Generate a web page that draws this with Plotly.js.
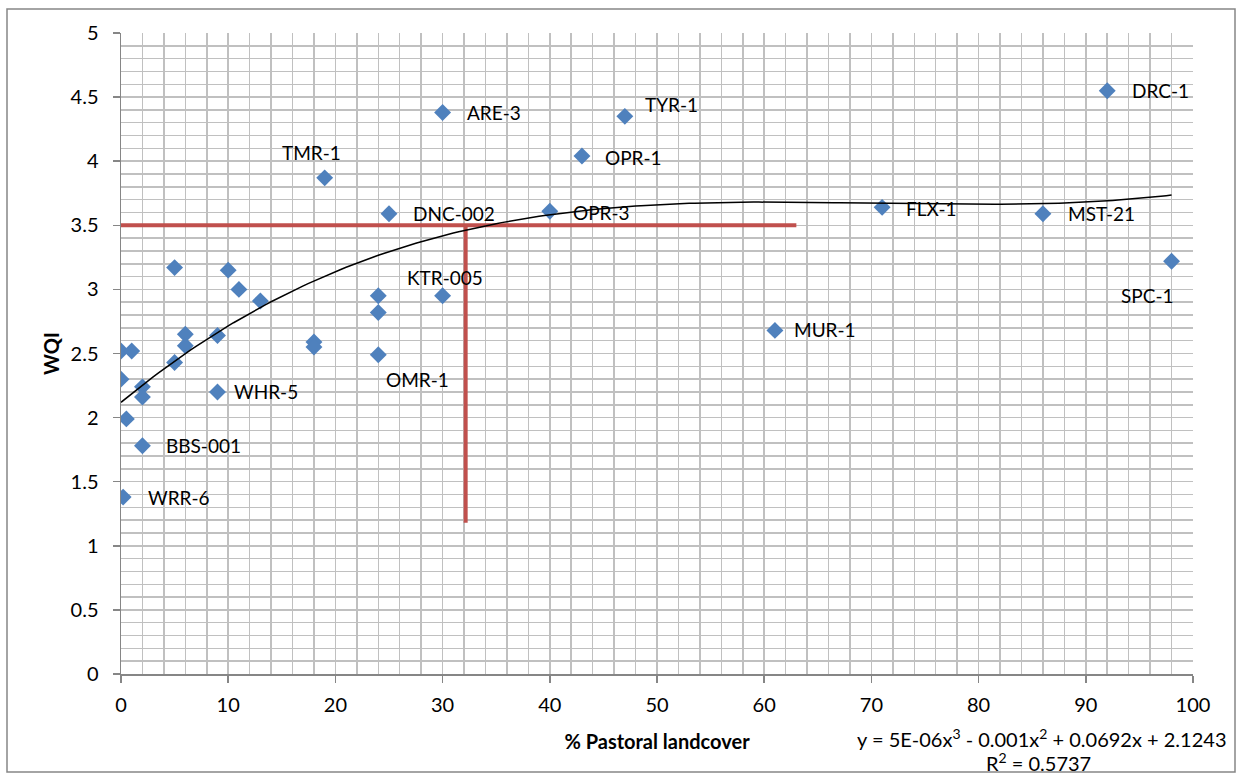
<!DOCTYPE html>
<html>
<head>
<meta charset="utf-8">
<script src="https://cdn.plot.ly/plotly-3.0.1.min.js"></script>
<style>html,body{margin:0;padding:0;background:#fff;}#chart{width:1237px;height:775px;}</style>
</head>
<body>
<div id="chart"></div>
<script>
// % pastoral landcover and WQI for each site
const pastoral = [0, 1, 0, 2, 2, 0.5, 2, 0.2, 5, 5, 6, 6, 9, 9, 10, 11, 13, 18, 18, 19, 25, 24, 24, 24, 30, 30, 40, 43, 47, 61, 71, 86, 92, 98];
const wqi      = [2.52, 2.52, 2.30, 2.24, 2.16, 1.99, 1.78, 1.38, 3.17, 2.43, 2.65, 2.56, 2.64, 2.20, 3.15, 3.00, 2.91, 2.59, 2.55, 3.87, 3.59, 2.95, 2.82, 2.49, 2.95, 4.38, 3.61, 4.04, 4.35, 2.68, 3.64, 3.59, 4.55, 3.22];
const siteNames= ["", "", "", "", "", "", "BBS-001", "WRR-6", "", "", "", "", "", "WHR-5", "", "", "", "", "", "TMR-1", "DNC-002", "", "", "OMR-1", "KTR-005", "ARE-3", "OPR-3", "OPR-1", "TYR-1", "MUR-1", "FLX-1", "MST-21", "DRC-1", "SPC-1"];

// threshold guide lines
const threshX = [0, 63];
const threshY = [3.5, 3.5];
const dropX = [32.15, 32.15];
const dropY = [3.5, 1.18];

const xTicks = [0,10,20,30,40,50,60,70,80,90,100];
const yTicks = [0,0.5,1,1.5,2,2.5,3,3.5,4,4.5,5];

// label placement (pixel offsets relative to the marker)
const labelPos = {
  "WRR-6":[23,0,"left"], "BBS-001":[22,0,"left"], "WHR-5":[15,0,"left"],
  "TMR-1":[-13,25,"center"], "DNC-002":[22,0,"left"], "KTR-005":[2,18,"center"],
  "OMR-1":[39,-25,"center"], "ARE-3":[22,0,"left"], "TYR-1":[18,12,"left"],
  "OPR-1":[21,-1,"left"], "OPR-3":[21,-1,"left"], "MUR-1":[17,1,"left"],
  "FLX-1":[22,-1,"left"], "MST-21":[23,0,"left"], "DRC-1":[23,0,"left"],
  "SPC-1":[-24,-34,"center"]
};

// cubic least-squares trendline computed from the data
function polyfit(xs, ys, deg) {
  const n = deg + 1;
  const A = Array.from({length:n}, () => new Array(n+1).fill(0));
  for (let k = 0; k < xs.length; k++) {
    for (let i = 0; i < n; i++) {
      for (let j = 0; j < n; j++) A[i][j] += Math.pow(xs[k], i + j);
      A[i][n] += ys[k] * Math.pow(xs[k], i);
    }
  }
  for (let i = 0; i < n; i++) {
    let p = i;
    for (let r = i+1; r < n; r++) if (Math.abs(A[r][i]) > Math.abs(A[p][i])) p = r;
    [A[i], A[p]] = [A[p], A[i]];
    for (let r = 0; r < n; r++) {
      if (r === i) continue;
      const f = A[r][i] / A[i][i];
      for (let c = i; c <= n; c++) A[r][c] -= f * A[i][c];
    }
  }
  return A.map((row, i) => row[n] / row[i]);
}
const coef = polyfit(pastoral, wqi, 3);
const xMax = Math.max(...pastoral);
const trendX = [], trendY = [];
for (let i = 0; i <= 196; i++) {
  const x = xMax * i / 196;
  trendX.push(x);
  trendY.push(coef[0] + coef[1]*x + coef[2]*x*x + coef[3]*x*x*x);
}

const font = "Lato, 'Open Sans', sans-serif";
const gridCol = "#c0c0c0";
const axisCol = "#868686";

const traces = [
  {x: threshX, y: threshY, mode: "lines", line: {color: "#C0504D", width: 4}, hoverinfo: "skip"},
  {x: dropX, y: dropY, mode: "lines", line: {color: "#C0504D", width: 4}, hoverinfo: "skip"},
  {x: pastoral, y: wqi, mode: "markers", marker: {symbol: "diamond", size: 13, color: "#4F81BD"}},
  {x: trendX, y: trendY, mode: "lines", line: {color: "#000000", width: 1.5}, hoverinfo: "skip"}
];

const annotations = [];
siteNames.forEach((name, i) => {
  if (!name) return;
  const p = labelPos[name];
  annotations.push({
    x: pastoral[i], y: wqi[i], xref: "x", yref: "y", text: name, showarrow: false,
    xanchor: p[2], yanchor: "middle", xshift: p[0], yshift: p[1],
    font: {family: font, size: 19, color: "#000"}
  });
});
annotations.push({
  xref: "paper", yref: "paper", x: (1042-121)/1072, y: (674-738)/641, xanchor: "center", yanchor: "middle",
  text: "y = 5E-06x<sup>3</sup> - 0.001x<sup>2</sup> + 0.0692x + 2.1243", showarrow: false,
  font: {family: font, size: 20, color: "#000"}
});
annotations.push({
  xref: "paper", yref: "paper", x: (1038-121)/1072, y: (674-762)/641, xanchor: "center", yanchor: "middle",
  text: "R<sup>2</sup> = 0.5737", showarrow: false,
  font: {family: font, size: 20, color: "#000"}
});

const layout = {
  width: 1237, height: 775,
  margin: {l: 121, r: 44, t: 33, b: 101},
  paper_bgcolor: "#fff", plot_bgcolor: "#fff",
  showlegend: false,
  font: {family: font, size: 19, color: "#000"},
  xaxis: {
    range: [0, 100], tickvals: xTicks, ticktext: xTicks.map(String),
    showgrid: true, gridcolor: gridCol, gridwidth: 1.5,
    minor: {dtick: 2, showgrid: true, gridcolor: gridCol, gridwidth: 1.5},
    showline: true, linecolor: axisCol, linewidth: 1.5,
    ticks: "outside", ticklen: 7, tickcolor: axisCol, tickwidth: 1.5,
    ticklabelstandoff: 5,
    zeroline: false,
    tickfont: {family: font, size: 20, color: "#000"},
    title: {text: "<b>% Pastoral landcover</b>", font: {family: font, size: 20, color: "#000"}, standoff: 20}
  },
  yaxis: {
    range: [0, 5], tickvals: yTicks, ticktext: yTicks.map(String),
    showgrid: true, gridcolor: gridCol, gridwidth: 1.5,
    minor: {dtick: 0.1, showgrid: true, gridcolor: gridCol, gridwidth: 1.5},
    showline: true, linecolor: axisCol, linewidth: 1.5,
    ticks: "outside", ticklen: 7, tickcolor: axisCol, tickwidth: 1.5,
    ticklabelstandoff: 10,
    zeroline: false,
    tickfont: {family: font, size: 20, color: "#000"},
    title: {text: "<b>WQI</b>", font: {family: font, size: 20, color: "#000"}, standoff: 5}
  },
  shapes: [
    {type: "rect", xref: "paper", yref: "paper",
     x0: (7-121)/1072, x1: (1235-121)/1072, y0: (674-772)/641, y1: (674-9)/641,
     line: {color: axisCol, width: 1.5}, fillcolor: "rgba(0,0,0,0)", layer: "below"}
  ],
  annotations: annotations
};

Plotly.newPlot("chart", traces, layout, {displayModeBar: false, staticPlot: true});
</script>
</body>
</html>
